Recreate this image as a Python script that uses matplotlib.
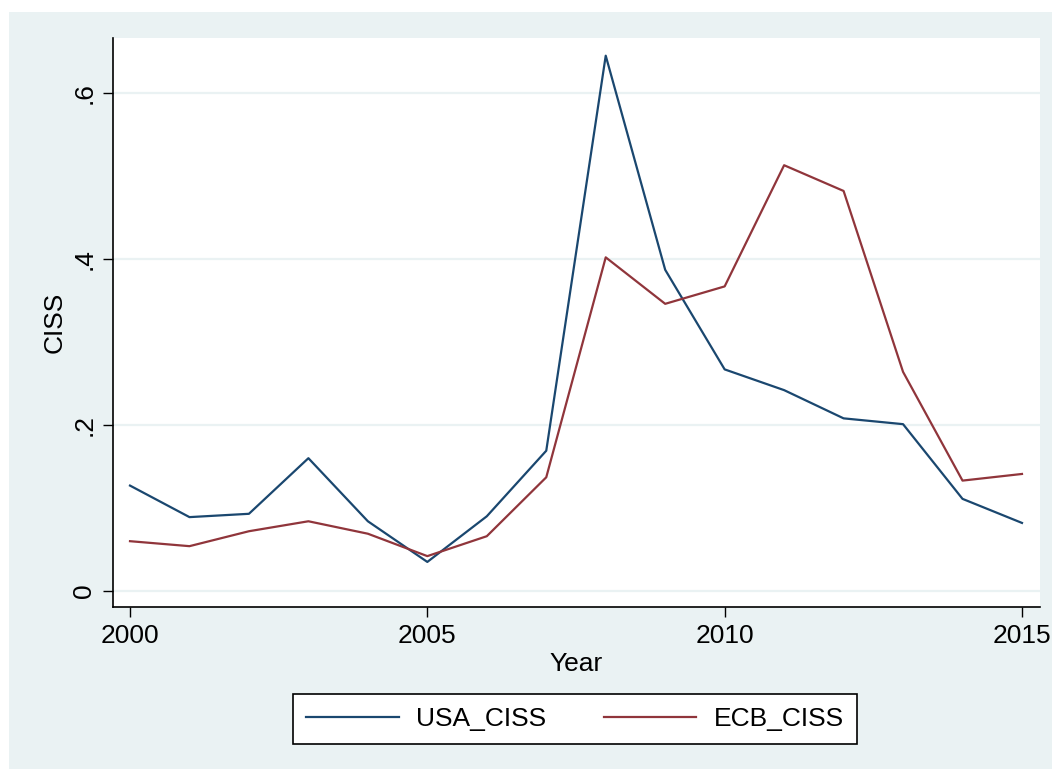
"""Stata-style line chart of USA and ECB CISS stress indices, 2000-2015."""
import matplotlib
matplotlib.use("Agg")
import matplotlib.pyplot as plt
from matplotlib.patches import Rectangle

years = list(range(2000, 2016))
usa_ciss = [0.127, 0.089, 0.093, 0.160, 0.084, 0.035, 0.090, 0.169,
            0.645, 0.387, 0.267, 0.242, 0.208, 0.201, 0.111, 0.082]
ecb_ciss = [0.060, 0.054, 0.072, 0.084, 0.069, 0.042, 0.066, 0.137,
            0.402, 0.346, 0.367, 0.513, 0.482, 0.264, 0.133, 0.141]
y_ticks = [0, 0.2, 0.4, 0.6]
y_tick_labels = ["0", ".2", ".4", ".6"]
x_ticks = [2000, 2005, 2010, 2015]

BG = "#EAF2F3"
NAVY = "#1a476f"
MAROON = "#90353b"
FS = 19

plt.rcParams["font.family"] = ["Liberation Sans", "DejaVu Sans"]

W, H = 1052, 769
fig = plt.figure(figsize=(W / 100, H / 100), dpi=100, facecolor="white")
fig.patches.append(Rectangle((9 / W, 0), 1 - 9 / W, 1 - 12 / H,
                             transform=fig.transFigure, facecolor=BG,
                             edgecolor="none", zorder=-5))

ax = fig.add_axes([113 / W, 1 - 607 / H, (1040 - 113) / W, (607 - 38) / H])
ax.set_facecolor("white")

ax.plot(years, usa_ciss, color=NAVY, lw=1.6, label="USA_CISS")
ax.plot(years, ecb_ciss, color=MAROON, lw=1.6, label="ECB_CISS")

ax.set_xlim(1999.714, 2015.303)
ax.set_ylim(-0.0193, 0.6663)
ax.set_xticks(x_ticks)
ax.set_yticks(y_ticks)
ax.set_yticklabels(y_tick_labels, rotation=90, va="center")
ax.tick_params(axis="both", labelsize=FS, length=7, width=1, direction="out", pad=5)
ax.grid(axis="y", color=BG, lw=1.6)
ax.set_axisbelow(True)

for side in ("top", "right"):
    ax.spines[side].set_visible(False)
for side in ("left", "bottom"):
    ax.spines[side].set_linewidth(1.2)

ax.set_xlabel("Year", fontsize=FS, labelpad=3)
ax.set_ylabel("CISS", fontsize=FS, labelpad=4)

leg = fig.legend(loc="center", bbox_to_anchor=(575 / W, 1 - 719 / H), ncol=2,
                 fontsize=FS, frameon=True, fancybox=False, edgecolor="black",
                 framealpha=1, facecolor="white",
                 handlelength=3.5, handletextpad=0.65, columnspacing=2.2,
                 borderpad=0.5, borderaxespad=0)
leg.get_frame().set_linewidth(1.2)

fig.savefig("out.png", dpi=100, facecolor=fig.get_facecolor())
